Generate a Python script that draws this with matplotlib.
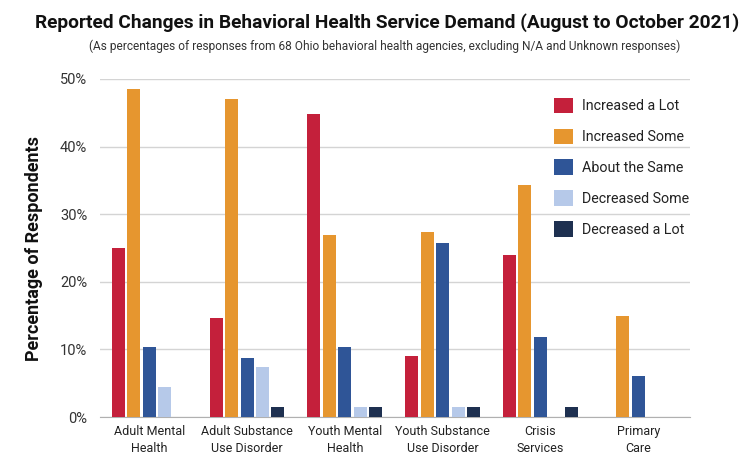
import numpy as np
import matplotlib
matplotlib.use("Agg")
import matplotlib.pyplot as plt

# values (percent of responses)
services = ["Adult Mental\nHealth", "Adult Substance\nUse Disorder", "Youth Mental\nHealth",
            "Youth Substance\nUse Disorder", "Crisis\nServices", "Primary\nCare"]
increased_lot = [25.0, 14.7, 44.8, 9.1, 23.9, 0]
increased_some = [48.5, 47.1, 26.9, 27.3, 34.3, 15.0]
about_same = [10.3, 8.8, 10.4, 25.8, 11.8, 6.0]
decreased_some = [4.4, 7.4, 1.5, 1.5, 0, 0]
decreased_lot = [0, 1.5, 1.5, 1.5, 1.5, 0]

series = [
    ("Increased a Lot", increased_lot, "#C4203B"),
    ("Increased Some", increased_some, "#E6962F"),
    ("About the Same", about_same, "#2F5597"),
    ("Decreased Some", decreased_some, "#B6C9E9"),
    ("Decreased a Lot", decreased_lot, "#1E3050"),
]

plt.rcParams['font.family'] = ['Roboto', 'DejaVu Sans']

fig = plt.figure(figsize=(7.5, 4.71), dpi=100)
ax = fig.add_axes([0.133, 0.1146, 0.787, 0.7177])

x = np.arange(len(services))
step = 0.158
width = 0.133
for i, (name, vals, col) in enumerate(series):
    ax.bar(x + (i - 2) * step, vals, width, color=col, label=name, zorder=3)

ax.set_ylim(0, 50)
ax.set_xlim(-0.506, 5.53)
ax.set_yticks(range(0, 51, 10))
ax.set_yticklabels([f"{t}%" for t in range(0, 51, 10)], fontsize=10.5, color="#333333")
ax.set_xticks(x)
ax.set_xticklabels(services, fontsize=9, color="#222222", linespacing=1.35)
ax.tick_params(axis="y", length=0, pad=9)
ax.tick_params(axis="x", length=0, pad=6)
ax.grid(axis="y", color="#d4d4d4", linewidth=1, zorder=0)
ax.set_axisbelow(True)
for s in ["top", "right", "left"]:
    ax.spines[s].set_visible(False)
ax.spines["bottom"].set_color("#b0b0b0")

ax.set_ylabel("Percentage of Respondents", fontsize=13, fontweight="bold", color="#111111", labelpad=12)

fig.text(0.516, 0.953, "Reported Changes in Behavioral Health Service Demand (August to October 2021)",
         ha="center", va="center", fontsize=13.8, fontweight="bold", color="#111111")
fig.text(0.513, 0.902, "(As percentages of responses from 68 Ohio behavioral health agencies, excluding N/A and Unknown responses)",
         ha="center", va="center", fontsize=8.6, color="#333333")

leg = ax.legend(loc="upper left", bbox_to_anchor=(0.722, 0.82), bbox_transform=fig.transFigure,
                frameon=False, fontsize=10.3, handlelength=1.3, handleheight=1.3,
                labelspacing=1.07, handletextpad=0.65, labelcolor="#222222")

fig.savefig("out.png", dpi=100)
